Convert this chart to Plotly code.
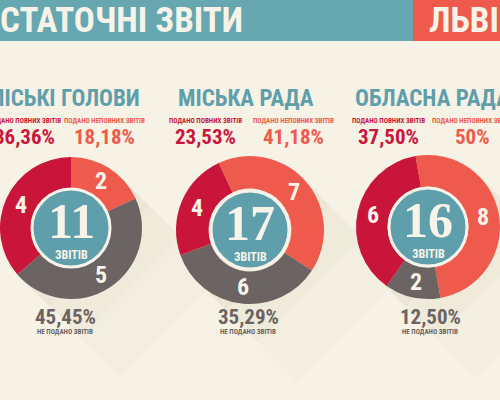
import math
import plotly.graph_objects as go

sections = ["МІСЬКІ ГОЛОВИ", "МІСЬКА РАДА", "ОБЛАСНА РАДА"]
full_reports = [4, 4, 6]       # подано повних звітів
partial_reports = [2, 7, 8]    # подано неповних звітів
missing_reports = [5, 6, 2]    # не подано звітів
header_left = "СТАТОЧНІ ЗВІТИ"
header_right = "ЛЬВІ"

# Colours
BG = "#f6f2e5"
TEAL = "#5f9fab"
HEAD_TEAL = "#67a7b1"
RED_DARK = "#c9153a"
RED_LIGHT = "#ee5a4c"
GREY = "#6b6462"
CREAM = "#f7f3e8"

NARROW = "Roboto Condensed, Roboto, sans-serif"
SERIF = "Liberation Serif, DejaVu Serif, serif"

W, H = 500, 400
HOLE = 0.56

# donut geometry in pixels: centre x, centre y, radius, rotation
donuts = [
    dict(cx=71, cy=228, r=71, rot=0),
    dict(cx=250, cy=230, r=74, rot=-25),
    dict(cx=428, cy=227, r=72, rot=-10),
]


def px(x):
    return x / W


def py(y):
    return 1 - y / H


def pct(v, t):
    p = v / t * 100
    if abs(p - round(p)) < 1e-9:
        return f"{int(round(p))}%"
    return f"{p:.2f}".replace(".", ",") + "%"


def label(text, x, y, size, color, family=NARROW, anchor="center"):
    return dict(text=text, x=px(x), y=py(y), xref="paper", yref="paper",
                xanchor=anchor, yanchor="middle", showarrow=False,
                font=dict(family=family, size=size, color=color, weight="bold"))


fig = go.Figure()
shapes = []
annotations = []

# header bands
shapes.append(dict(type="rect", xref="paper", yref="paper", x0=0, x1=px(413), y0=py(41), y1=1.02,
                   fillcolor=HEAD_TEAL, line_width=0, layer="below"))
shapes.append(dict(type="rect", xref="paper", yref="paper", x0=px(413), x1=1.01, y0=py(41), y1=1.02,
                   fillcolor=RED_LIGHT, line_width=0, layer="below"))
annotations.append(label(header_left, -2, 21, 35, CREAM, anchor="left"))
annotations.append(label(header_right, 427, 21, 35, CREAM, anchor="left"))

title_x = [63, 246, 432]
full_x = [24, 205, 388]
part_x = [104, 293, 472]

for i, d in enumerate(donuts):
    cx, cy, r = d["cx"], d["cy"], d["r"]
    vals = [partial_reports[i], missing_reports[i], full_reports[i]]
    total = sum(vals)

    # long faint shadow to the lower right
    k = 0.7071
    for L in (40, 85, 140):
        x1, y1 = cx + r * k, cy - r * k
        x2, y2 = cx - r * k, cy + r * k
        path = (f"M {px(x1)} {py(y1)} L {px(x1 + L * k)} {py(y1 + L * k)} "
                f"L {px(x2 + L * k)} {py(y2 + L * k)} L {px(x2)} {py(y2)} Z")
        shapes.append(dict(type="path", xref="paper", yref="paper", path=path,
                           fillcolor="rgba(110,90,60,0.022)", line_width=0, layer="below"))

    # outer ring
    fig.add_trace(go.Pie(
        values=vals,
        labels=["подано неповних звітів", "не подано звітів", "подано повних звітів"],
        marker=dict(colors=[RED_LIGHT, GREY, RED_DARK], line=dict(width=0)),
        hole=HOLE, sort=False, direction="clockwise", rotation=d["rot"],
        textinfo="none",
        domain=dict(x=[px(cx - r), px(cx + r)], y=[py(cy + r), py(cy - r)]),
        hoverinfo="skip", showlegend=False,
    ))

    # slice values placed at the middle of each slice, in the ring
    start = d["rot"]
    rmid = r * (1 + HOLE) / 2
    for v in vals:
        a = math.radians(start + 180 * v / total)
        annotations.append(label(str(v), cx + rmid * math.sin(a), cy - rmid * math.cos(a), 24, CREAM))
        start += 360 * v / total

    # teal centre disc
    rc = 39
    fig.add_trace(go.Pie(
        values=[total], labels=["звітів"],
        marker=dict(colors=[TEAL], line=dict(width=3, color=CREAM)),
        textinfo="none", sort=False,
        domain=dict(x=[px(cx - rc), px(cx + rc)], y=[py(cy + rc), py(cy - rc)]),
        hoverinfo="skip", showlegend=False,
    ))

    annotations.append(label(str(total), cx, cy - 7, 50, CREAM, family=SERIF))
    annotations.append(label("ЗВІТІВ", cx, cy + 27, 12, CREAM))

    # section title and percentages
    annotations.append(label(sections[i], title_x[i], 98, 23, TEAL))
    annotations.append(label("ПОДАНО ПОВНИХ ЗВІТІВ", full_x[i], 121, 7, RED_DARK))
    annotations.append(label("ПОДАНО НЕПОВНИХ ЗВІТІВ", part_x[i], 121, 7, RED_LIGHT))
    annotations.append(label(pct(full_reports[i], total), full_x[i], 137, 21, RED_DARK))
    annotations.append(label(pct(partial_reports[i], total), part_x[i], 137, 21, RED_LIGHT))
    annotations.append(label(pct(missing_reports[i], total), cx - 6 + 4 * i, 317, 21, GREY))
    annotations.append(label("НЕ ПОДАНО ЗВІТІВ", cx - 6 + 4 * i, 332, 7, GREY))

fig.update_layout(
    width=W, height=H,
    margin=dict(l=0, r=0, t=0, b=0),
    paper_bgcolor=BG, plot_bgcolor=BG,
    shapes=shapes, annotations=annotations,
    showlegend=False,
)

fig.write_html("out.html", config={"displayModeBar": False},
               post_script="document.body.style.margin='0';")
